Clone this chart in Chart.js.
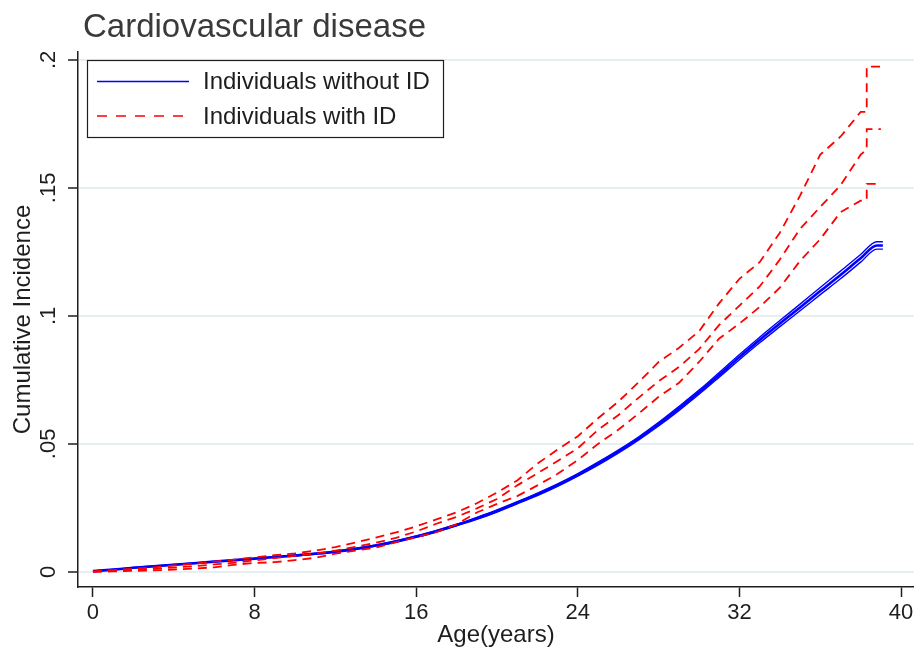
<!DOCTYPE html>
<html>
<head>
<meta charset="utf-8">
<script src="https://cdn.jsdelivr.net/npm/chart.js@4"></script>
<style>
  html, body { margin: 0; padding: 0; background: #fff; }
  #wrap { width: 914px; height: 651px; }
</style>
</head>
<body>
<div id="wrap"><canvas id="cvd" width="914" height="651"></canvas></div>
<script>
/* ========= Data ========= */
const ageBlue = [0,1,2,3,4,5,6,7,8,9,10,11,12,13,14,15,16,17,18,19,20,21,22,23,24,25,26,27,28,29,30,31,32,33,34,35,36,37,38,38.8,39.1];
const noIdEst = [0.0003,0.0009,0.0016,0.0022,0.0028,0.0034,0.0040,0.0046,0.0052,0.0058,0.0064,0.0071,0.0079,0.0090,0.0103,0.0119,0.0138,0.0159,0.0183,0.0209,0.0238,0.0270,0.0303,0.0339,0.0379,0.0423,0.0470,0.0521,0.0577,0.0638,0.0702,0.0770,0.0839,0.0906,0.0970,0.1033,0.1097,0.1160,0.1225,0.1275,0.1275];
const noIdHigh = [0.0004,0.0010,0.0017,0.0023,0.0029,0.0035,0.0041,0.0047,0.0053,0.0059,0.0066,0.0073,0.0081,0.0092,0.0105,0.0122,0.0141,0.0162,0.0186,0.0213,0.0242,0.0274,0.0308,0.0344,0.0384,0.0429,0.0476,0.0527,0.0584,0.0646,0.0710,0.0779,0.0849,0.0917,0.0982,0.1046,0.1111,0.1175,0.1240,0.1290,0.1290];
const noIdLow = [0.0002,0.0008,0.0015,0.0021,0.0027,0.0033,0.0039,0.0045,0.0051,0.0057,0.0062,0.0069,0.0077,0.0088,0.0101,0.0116,0.0135,0.0156,0.0180,0.0205,0.0234,0.0266,0.0298,0.0334,0.0374,0.0417,0.0464,0.0515,0.0570,0.0630,0.0694,0.0761,0.0829,0.0895,0.0958,0.1020,0.1083,0.1145,0.1210,0.1261,0.1261];

const ageRed = [0,1,2,3,4,5,6,7,8,9,10,11,12,13,14,15,16,17,18,19,20,21,22,23,24,25,26,27,28,29,30,31,32,33,34,35,36,37,38,38.3,38.3,39.0];
const idEst = [0.0001,0.0004,0.0008,0.0012,0.0017,0.0022,0.0029,0.0036,0.0045,0.0054,0.0063,0.0071,0.0083,0.0098,0.0114,0.0133,0.0158,0.0188,0.0215,0.0248,0.0285,0.0338,0.0385,0.0433,0.0483,0.0555,0.0612,0.0680,0.0745,0.0800,0.0870,0.0965,0.1040,0.1115,0.1220,0.1340,0.1426,0.1510,0.1630,0.1650,0.1730,0.1730];
const idHigh = [0.0002,0.0007,0.0012,0.0018,0.0025,0.0032,0.0040,0.0048,0.0057,0.0065,0.0072,0.0083,0.0097,0.0115,0.0134,0.0154,0.0178,0.0205,0.0233,0.0268,0.0310,0.0357,0.0423,0.0478,0.0530,0.0600,0.0665,0.0740,0.0820,0.0875,0.0940,0.1050,0.1145,0.1210,0.1325,0.1470,0.1630,0.1700,0.1797,0.1797,0.1974,0.1974];
const idLow = [0.0000,0.0002,0.0004,0.0006,0.0009,0.0013,0.0018,0.0028,0.0035,0.0038,0.0046,0.0055,0.0071,0.0083,0.0095,0.0116,0.0136,0.0155,0.0186,0.0232,0.0266,0.0296,0.0338,0.0383,0.0437,0.0500,0.0555,0.0618,0.0684,0.0738,0.0820,0.0912,0.0970,0.1035,0.1110,0.1215,0.1300,0.1405,0.1450,0.1453,0.1516,0.1516];

const xTicks = [0, 8, 16, 24, 32, 40];
const yTicks = [0, 0.05, 0.1, 0.15, 0.2];
const yTickLabels = ["0", ".05", ".1", ".15", ".2"];

const seriesLabels = ["Individuals without ID", "Individuals with ID"];
const chartTitle = "Cardiovascular disease";

/* ========= Styles ========= */
const FONT = "'Liberation Sans', Arial, sans-serif";
const BLUE = "#0000ff";
const RED = "#ff0000";
const AXIS = "#1e1e1e";
const GRID = "#e8eff1";

function pts(xs, ys) { return xs.map((x, i) => ({ x: x, y: ys[i] })); }

function redLine(label, ys, w) {
  return { label: label, data: pts(ageRed, ys), borderColor: RED, borderWidth: w,
    borderDash: [9, 6], pointRadius: 0, tension: 0, order: 0 };
}
function blueLine(label, ys, w) {
  return { label: label, data: pts(ageBlue, ys), borderColor: BLUE, borderWidth: w,
    pointRadius: 0, cubicInterpolationMode: "monotone", order: 1 };
}

/* ========= Title + legend box (drawn on top) ========= */
const decor = {
  id: "decor",
  afterDraw(chart) {
    const ctx = chart.ctx;
    ctx.save();
    ctx.fillStyle = "#3a3a3a";
    ctx.font = "33px " + FONT;
    ctx.textBaseline = "alphabetic";
    ctx.fillText(chartTitle, 83, 37);

    // legend
    ctx.fillStyle = "#fff";
    ctx.fillRect(87.5, 60.5, 356, 77);
    ctx.strokeStyle = AXIS;
    ctx.lineWidth = 1.2;
    ctx.strokeRect(87.5, 60.5, 356, 77);
    const rows = [[0, 81.5], [3, 116]];
    rows.forEach(([dsIdx, y], k) => {
      const ds = chart.data.datasets[dsIdx];
      ctx.strokeStyle = ds.borderColor;
      ctx.lineWidth = 1.5;
      ctx.setLineDash(ds.borderDash ? [10, 9] : []);
      ctx.beginPath();
      ctx.moveTo(97, y);
      ctx.lineTo(189, y);
      ctx.stroke();
      ctx.setLineDash([]);
      ctx.fillStyle = "#1e1e1e";
      ctx.font = "24px " + FONT;
      ctx.textBaseline = "middle";
      ctx.fillText(seriesLabels[k], 203, y + 1);
    });
    ctx.restore();
  }
};

/* ========= Chart ========= */
const ctx = document.getElementById("cvd").getContext("2d");
new Chart(ctx, {
  type: "line",
  data: {
    datasets: [
      blueLine(seriesLabels[0], noIdEst, 2.6),
      blueLine("upper", noIdHigh, 1.4),
      blueLine("lower", noIdLow, 1.4),
      redLine(seriesLabels[1], idEst, 1.8),
      redLine("upper", idHigh, 1.8),
      redLine("lower", idLow, 1.8)
    ]
  },
  options: {
    responsive: false,
    animation: false,
    layout: { padding: { top: 52, right: 0, left: 0, bottom: 0 } },
    plugins: { legend: { display: false }, tooltip: { enabled: false }, title: { display: false } },
    scales: {
      x: {
        type: "linear",
        min: -0.74,
        max: 40.64,
        afterBuildTicks: s => { s.ticks = xTicks.map(v => ({ value: v })); },
        afterFit: s => { s.height = 64; s.paddingRight = 0; s.paddingLeft = 0; },
        ticks: { color: AXIS, font: { family: FONT, size: 22 }, padding: 3, maxRotation: 0,
          callback: v => String(v) },
        grid: { drawOnChartArea: false, drawTicks: true, tickLength: 10, tickColor: AXIS, tickWidth: 1.5 },
        border: { display: true, color: AXIS, width: 1.5 },
        title: { display: true, text: "Age(years)", color: AXIS,
          font: { family: FONT, size: 24 }, padding: { top: 0, bottom: 1 } }
      },
      y: {
        min: -0.0059,
        max: 0.2031,
        afterBuildTicks: s => { s.ticks = yTicks.map(v => ({ value: v })); },
        afterFit: s => { s.width = 78; s.paddingTop = 0; s.paddingBottom = 0; },
        ticks: { color: AXIS, font: { family: FONT, size: 22 }, padding: 4,
          minRotation: 90, maxRotation: 90, crossAlign: "center",
          callback: v => yTickLabels[yTicks.indexOf(v)] },
        grid: { color: GRID, lineWidth: 2, drawTicks: true, tickLength: 10, tickColor: AXIS, tickWidth: 1.5 },
        border: { display: true, color: AXIS, width: 1.5 },
        title: { display: true, text: "Cumulative Incidence", color: AXIS,
          font: { family: FONT, size: 24 }, padding: { top: 9, bottom: 0 } }
      }
    }
  },
  plugins: [decor]
});
</script>
</body>
</html>
